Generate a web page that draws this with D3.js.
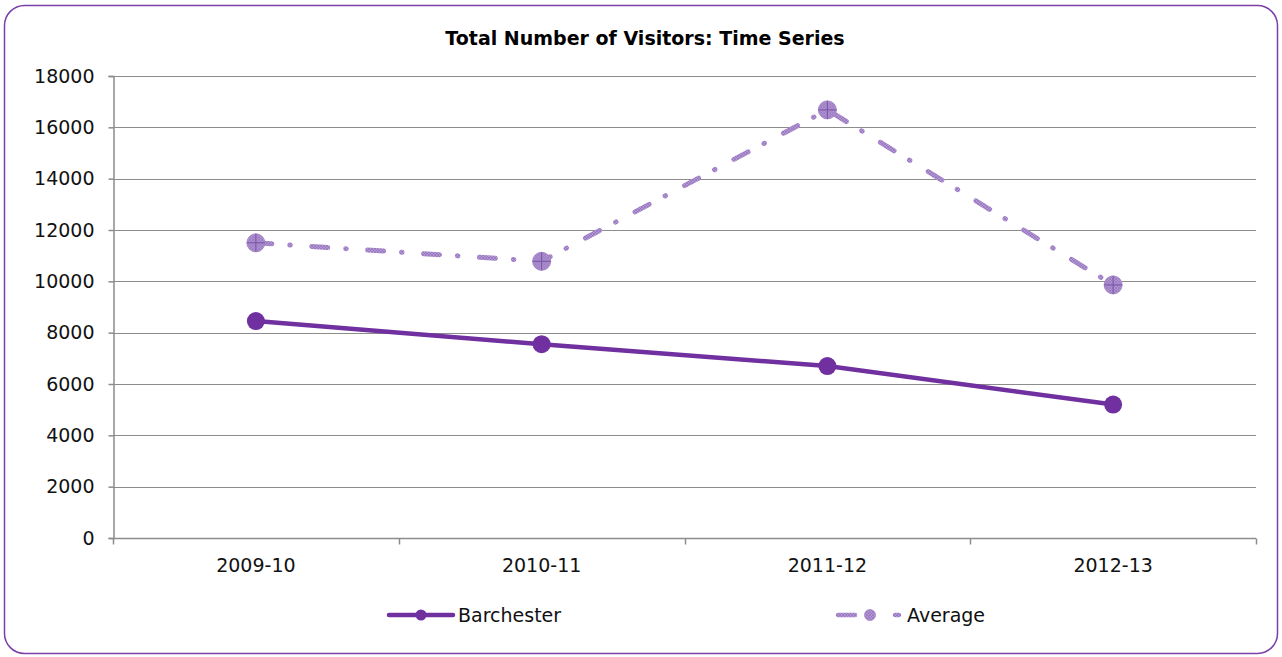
<!DOCTYPE html>
<html>
<head>
<meta charset="utf-8">
<script src="https://cdn.jsdelivr.net/npm/d3@7/dist/d3.min.js"></script>
<style>
  html, body { margin: 0; padding: 0; background: #fff; }
  svg { display: block; font-family: "DejaVu Sans", Verdana, sans-serif; }
</style>
</head>
<body>
<svg id="chart" width="1282" height="657"></svg>
<script>
// Financial years shown on the x axis
const years = ["2009-10", "2010-11", "2011-12", "2012-13"];
// Total visitors per year
const barchester = [8450, 7550, 6700, 5200];
const average = [11500, 10780, 16680, 9860];
// Value axis ticks
const yTicks = [0, 2000, 4000, 6000, 8000, 10000, 12000, 14000, 16000, 18000];

const svg = d3.select("#chart");
const W = 1282, H = 657;
const margin = { left: 113, right: 26, top: 76, bottom: 119 };
const FS = 19;

const dark = "#70309f";

// hatched fill used by the Average markers and line
const defs = svg.append("defs");
const pat = defs.append("pattern")
  .attr("id", "hatch").attr("patternUnits", "userSpaceOnUse")
  .attr("width", 3).attr("height", 3);
pat.append("rect").attr("width", 3).attr("height", 3).attr("fill", "#b297d2");
pat.append("path").attr("d", "M0,0L3,3M3,0L0,3").attr("stroke", "#8f6cb8").attr("stroke-width", 0.6);

// outer rounded frame
svg.append("rect")
  .attr("x", 4.5).attr("y", 5.5).attr("width", 1273).attr("height", 648)
  .attr("rx", 20).attr("ry", 20)
  .attr("fill", "#fff").attr("stroke", "#7a3fa8").attr("stroke-width", 1.5);

svg.append("text")
  .attr("x", 645).attr("y", 45)
  .attr("text-anchor", "middle")
  .attr("font-weight", "bold").attr("font-size", 19)
  .text("Total Number of Visitors: Time Series");

const x = d3.scaleBand().domain(years)
  .range([margin.left, W - margin.right]).paddingInner(0).paddingOuter(0);
const y = d3.scaleLinear().domain([0, 18000]).range([H - margin.bottom, margin.top]);
const cx = d => x(d) + x.bandwidth() / 2;

// horizontal gridlines
svg.append("g").selectAll("line").data(yTicks.filter(t => t > 0)).join("line")
  .attr("x1", margin.left).attr("x2", W - margin.right)
  .attr("y1", d => Math.round(y(d)) + 0.5).attr("y2", d => Math.round(y(d)) + 0.5)
  .attr("stroke", "#8c8c8c").attr("stroke-width", 1);

// y axis
const yAxis = svg.append("g")
  .attr("transform", `translate(${margin.left + 0.5},0)`)
  .call(d3.axisLeft(y).tickValues(yTicks).tickSize(5).tickPadding(14).tickFormat(d3.format("d")));
yAxis.selectAll("path, line").attr("stroke", "#8c8c8c").attr("stroke-width", 1.5);
yAxis.selectAll("text").attr("font-size", FS).attr("fill", "#111")
  .attr("font-family", "DejaVu Sans, Verdana, sans-serif");

// x axis with tick marks on band boundaries
const xAxisG = svg.append("g").attr("transform", `translate(0,${Math.round(y(0)) + 0.5})`);
xAxisG.append("line")
  .attr("x1", margin.left).attr("x2", W - margin.right)
  .attr("stroke", "#8c8c8c").attr("stroke-width", 1.5);
const bounds = years.map(d => x(d)).concat([x(years[years.length - 1]) + x.bandwidth()]);
xAxisG.selectAll("line.tk").data(bounds).join("line").attr("class", "tk")
  .attr("x1", d => Math.round(d) + 0.5).attr("x2", d => Math.round(d) + 0.5)
  .attr("y1", 0).attr("y2", 6)
  .attr("stroke", "#8c8c8c").attr("stroke-width", 1.5);
xAxisG.selectAll("text").data(years).join("text")
  .attr("x", d => cx(d)).attr("y", 33.5)
  .attr("text-anchor", "middle").attr("font-size", FS).attr("fill", "#111")
  .text(d => d);

const line = d3.line().x((d, i) => cx(years[i])).y(d => y(d));

// Average series: hatched dash-dot line with crosshair markers
svg.append("path").datum(average)
  .attr("d", line).attr("fill", "none")
  .attr("stroke", "url(#hatch)").attr("stroke-width", 5)
  .attr("stroke-linecap", "round")
  .attr("stroke-dasharray", "16,18,0.5,21.5");

const avgMarks = svg.append("g").selectAll("g").data(average).join("g")
  .attr("transform", (d, i) => `translate(${cx(years[i])},${y(d)})`);
avgMarks.append("circle").attr("r", 9).attr("fill", "url(#hatch)")
  .attr("stroke", "#a487c6").attr("stroke-width", 1);
avgMarks.append("path").attr("d", "M-9,0H9M0,-9V9")
  .attr("stroke", "#7a52a7").attr("stroke-width", 1);

// Barchester series: solid line with filled markers
svg.append("path").datum(barchester)
  .attr("d", line).attr("fill", "none")
  .attr("stroke", dark).attr("stroke-width", 4.5);
svg.append("g").selectAll("circle").data(barchester).join("circle")
  .attr("cx", (d, i) => cx(years[i])).attr("cy", d => y(d))
  .attr("r", 9).attr("fill", dark);

// legend
const lg = svg.append("g").attr("transform", "translate(0,615)");
lg.append("line").attr("x1", 389).attr("x2", 453)
  .attr("stroke", dark).attr("stroke-width", 4.5).attr("stroke-linecap", "round");
lg.append("circle").attr("cx", 421).attr("r", 5.5).attr("fill", dark);
lg.append("text").attr("x", 458).attr("y", 7).attr("font-size", FS).attr("fill", "#111")
  .text("Barchester");

lg.append("line").attr("x1", 838).attr("x2", 855)
  .attr("stroke", "url(#hatch)").attr("stroke-width", 4.5).attr("stroke-linecap", "round");
lg.append("circle").attr("cx", 870).attr("r", 5.5).attr("fill", "url(#hatch)")
  .attr("stroke", "#a487c6").attr("stroke-width", 0.8);
lg.append("line").attr("x1", 895).attr("x2", 899)
  .attr("stroke", "url(#hatch)").attr("stroke-width", 4.5).attr("stroke-linecap", "round");
lg.append("text").attr("x", 907).attr("y", 7).attr("font-size", FS).attr("fill", "#111")
  .text("Average");
</script>
</body>
</html>
